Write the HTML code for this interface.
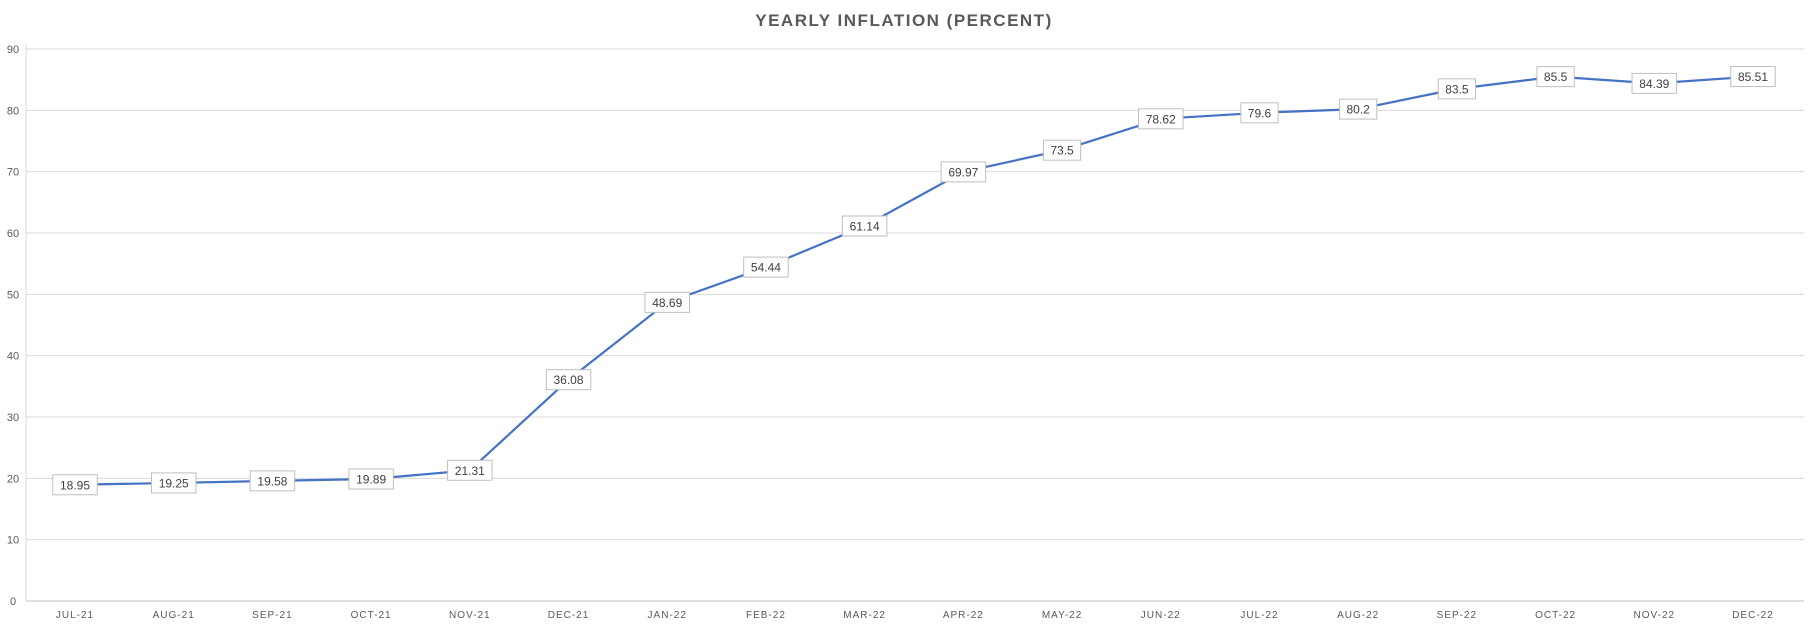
<!DOCTYPE html>
<html><head><meta charset="utf-8"><style>
body{margin:0;background:#fff;}
svg{display:block;font-family:"Liberation Sans",sans-serif;}
</style></head><body>
<svg id="chart" width="1809" height="627">
<text x="904" y="26" text-anchor="middle" font-size="17" font-weight="bold" fill="#595959" letter-spacing="1.5">YEARLY INFLATION (PERCENT)</text>
<g id="grid"></g><g id="xl"></g><g id="line"></g><g id="labels"></g>
</svg>
<script>
const categories=["JUL-21","AUG-21","SEP-21","OCT-21","NOV-21","DEC-21","JAN-22","FEB-22","MAR-22","APR-22","MAY-22","JUN-22","JUL-22","AUG-22","SEP-22","OCT-22","NOV-22","DEC-22"];
const values=[18.95,19.25,19.58,19.89,21.31,36.08,48.69,54.44,61.14,69.97,73.5,78.62,79.6,80.2,83.5,85.5,84.39,85.51];
const yTicks=[0,10,20,30,40,50,60,70,80,90];
const NS="http://www.w3.org/2000/svg";
const L=26,R=1804,T=49,B=601;
const x=i=>75+i*(1753-75)/(categories.length-1);
const y=v=>B-(v/90)*(B-T);
function mk(tag,a,p){const e=document.createElementNS(NS,tag);for(const k in a)e.setAttribute(k,a[k]);p.appendChild(e);return e;}
const g=document.getElementById('grid');
yTicks.forEach(t=>{
 const ln=mk('line',{x1:L,x2:R,y1:y(t),y2:y(t),stroke:t===0?'#bfbfbf':'#d9d9d9','stroke-width':1},g);
 
 
 const tx=mk('text',{x:13,y:y(t)+4,'text-anchor':'middle','font-size':11,fill:'#595959'},g);
 tx.textContent=t;
 
 
});
const ax=mk('line',{x1:L,x2:L,y1:T-5,y2:B,stroke:'#d9d9d9'},g);


const xl=document.getElementById('xl');
categories.forEach((c,i)=>{
 const t=mk('text',{x:x(i),y:618,'text-anchor':'middle','font-size':10,fill:'#595959','letter-spacing':'1'},xl);
 t.textContent=c;
 
 
});
const pl=mk('polyline',{points:values.map((v,i)=>x(i)+','+y(v)).join(' '),fill:'none',stroke:'#4472c4','stroke-width':2.2,'stroke-linejoin':'round'},document.getElementById('line'));


const lb=document.getElementById('labels');
values.forEach((v,i)=>{
 const s=String(v),w=s.length*7.3+8;
 const r=mk('rect',{x:x(i)-w/2,y:y(v)-10,width:w,height:20,fill:'#fff',stroke:'#bfbfbf'},lb);
 
 
 const t=mk('text',{x:x(i),y:y(v)+4.5,'text-anchor':'middle','font-size':12,fill:'#404040'},lb);
 t.textContent=s;
 
 
});
</script>
</body></html>
